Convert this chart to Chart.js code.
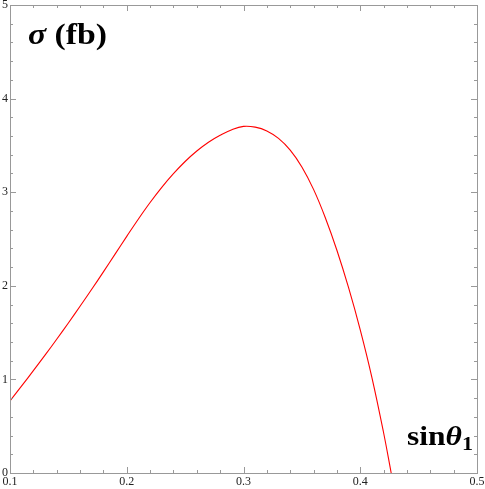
<!DOCTYPE html>
<html>
<head>
  <title>Cross section vs sin theta1</title>
  <script src="https://cdn.jsdelivr.net/npm/chart.js"></script>
  <style>
    body { margin: 0; background: #fff; }
  </style>
</head>
<body>
  <canvas id="xsecChart" width="485" height="489"></canvas>

  <script>
    // values
    const sinTheta = [0.10, 0.11, 0.12, 0.13, 0.14, 0.15, 0.16, 0.17, 0.18, 0.19,
                      0.20, 0.21, 0.22, 0.23, 0.24, 0.25, 0.26, 0.27, 0.28, 0.29,
                      0.30, 0.31, 0.32, 0.33, 0.34, 0.35, 0.36, 0.37, 0.38, 0.39,
                      0.40, 0.41, 0.42, 0.4265];
    const sigma = [0.77, 0.93, 1.093, 1.259, 1.429, 1.603, 1.781, 1.963, 2.149, 2.338,
                   2.528, 2.714, 2.89, 3.052, 3.198, 3.328, 3.44, 3.534, 3.608, 3.668,
                   3.703, 3.695, 3.655, 3.575, 3.45, 3.27, 3.03, 2.73, 2.38, 1.98,
                   1.53, 1.02, 0.43, 0.0];

    const xTicks = [0.1, 0.2, 0.3, 0.4, 0.5];
    const yTicks = [0, 1, 2, 3, 4, 5];

    const frameColor = '#999';

    // draw a run of text pieces squeezed/stretched to a given total width
    const drawLabel = (ctx, parts, x, width) => {
      let total = 0;
      parts.forEach(p => { ctx.font = p.font; total += ctx.measureText(p.text).width; });
      const k = width / total;
      ctx.save();
      ctx.translate(x, 0);
      ctx.scale(k, 1);
      let cx = 0;
      parts.forEach(p => {
        ctx.font = p.font;
        ctx.fillText(p.text, cx, p.y);
        cx += ctx.measureText(p.text).width;
      });
      ctx.restore();
    };

    // Mathematica style frame: ticks pointing inward on all four sides
    const framePlugin = {
      id: 'frame',
      afterDatasetsDraw(chart) {
        const ctx = chart.ctx;
        const xs = chart.scales.x;
        const ys = chart.scales.y;
        const a = chart.chartArea;
        ctx.save();
        ctx.strokeStyle = frameColor;
        ctx.lineWidth = 1;
        ctx.strokeRect(Math.round(a.left) + 0.5, Math.round(a.top) + 0.5,
                       Math.round(a.right - a.left), Math.round(a.bottom - a.top));

        const line = (x1, y1, x2, y2) => {
          ctx.beginPath();
          ctx.moveTo(x1, y1);
          ctx.lineTo(x2, y2);
          ctx.stroke();
        };

        // x ticks, major every 0.1, minor every 0.02
        for (let i = 0; i <= 20; i++) {
          const v = 0.1 + i * 0.02;
          const px = Math.round(xs.getPixelForValue(v)) + 0.5;
          const len = i % 5 === 0 ? 6 : 3;
          line(px, a.bottom, px, a.bottom - len);
          line(px, a.top, px, a.top + len);
        }
        // y ticks, major every 1, minor every 0.2
        for (let i = 0; i <= 25; i++) {
          const v = i * 0.2;
          const py = Math.round(ys.getPixelForValue(v)) + 0.5;
          const len = i % 5 === 0 ? 6 : 3;
          line(a.left, py, a.left + len, py);
          line(a.right, py, a.right - len, py);
        }

        ctx.fillStyle = '#222';
        ctx.font = '12px "Liberation Serif"';
        ctx.textAlign = 'center';
        ctx.textBaseline = 'top';
        xTicks.forEach(v => {
          ctx.fillText(String(v), xs.getPixelForValue(v), a.bottom + 3);
        });
        ctx.textAlign = 'right';
        ctx.textBaseline = 'middle';
        yTicks.forEach(v => {
          ctx.fillText(String(v), a.left - 2, ys.getPixelForValue(v));
        });

        // axis labels inside the frame
        ctx.fillStyle = '#000';
        ctx.textAlign = 'left';
        ctx.textBaseline = 'alphabetic';
        drawLabel(ctx, [
          { text: '\u03c3', font: 'italic bold 29px "Liberation Serif"', y: 44 },
          { text: ' (fb)', font: 'bold 29px "Liberation Serif"', y: 44 }
        ], 28, 79);
        drawLabel(ctx, [
          { text: 'sin', font: 'bold 27px "Liberation Serif"', y: 445 },
          { text: '\u03b8', font: 'italic bold 27px "Liberation Serif"', y: 445 },
          { text: '1', font: 'bold 19px "Liberation Serif"', y: 450 }
        ], 407, 66);
        ctx.restore();
      }
    };

    const ctx = document.getElementById('xsecChart').getContext('2d');
    new Chart(ctx, {
      type: 'scatter',
      data: {
        datasets: [{
          label: 'sigma',
          data: sinTheta.map((s, i) => ({ x: s, y: sigma[i] })),
          showLine: true,
          borderColor: '#ff0000',
          borderWidth: 1.1,
          pointRadius: 0,
          tension: 0.4,
          fill: false
        }]
      },
      options: {
        responsive: false,
        animation: false,
        layout: { padding: { left: 10, right: 8, top: 5, bottom: 16 } },
        plugins: { legend: { display: false }, tooltip: { enabled: false } },
        scales: {
          x: { type: 'linear', min: 0.1, max: 0.5, display: false },
          y: { type: 'linear', min: 0, max: 5, display: false }
        }
      },
      plugins: [framePlugin]
    });
  </script>
</body>
</html>
